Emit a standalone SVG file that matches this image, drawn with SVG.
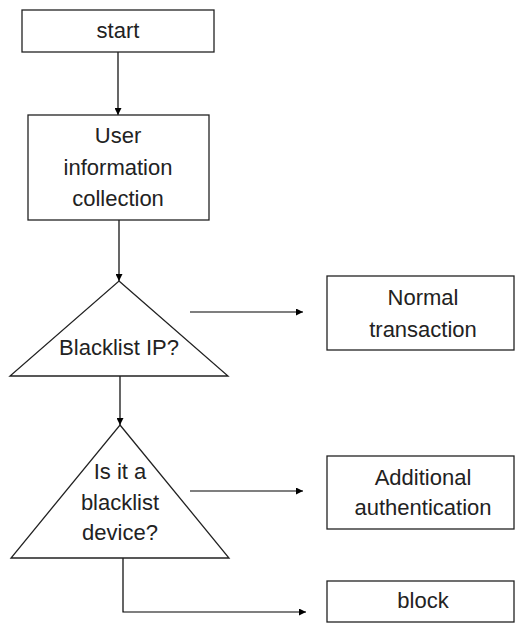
<svg xmlns="http://www.w3.org/2000/svg" width="515" height="623" viewBox="0 0 515 623">
<defs>
<marker id="arr" viewBox="0 0 10 10" refX="10" refY="5" markerWidth="9" markerHeight="7" markerUnits="userSpaceOnUse" orient="auto">
<path d="M0,0 L10,5 L0,10 z" fill="#000"/>
</marker>
<style>
.box{fill:#fff;stroke:#222;stroke-width:1.3}
.t{font-family:"Liberation Sans",Arial,sans-serif;font-size:22px;fill:#222;text-anchor:middle}
.c{fill:none;stroke:#000;stroke-width:1.2}
</style>
</defs>
<rect width="515" height="623" fill="#fff"/>
<g id="connectors">
<line class="c" x1="118" y1="52" x2="118" y2="115" marker-end="url(#arr)"/>
<line class="c" x1="119" y1="220" x2="119" y2="281" marker-end="url(#arr)"/>
<line class="c" x1="120" y1="376" x2="120" y2="425" marker-end="url(#arr)"/>
<line class="c" x1="190" y1="312" x2="303" y2="312" marker-end="url(#arr)"/>
<line class="c" x1="190" y1="491" x2="303" y2="491" marker-end="url(#arr)"/>
<polyline class="c" points="123,558 123,612 306,612" marker-end="url(#arr)"/>
</g>
<g id="start">
<rect class="box" x="22" y="10" width="192" height="42"/>
<text class="t" x="118" y="38">start</text>
</g>
<g id="collect">
<rect class="box" x="28" y="115" width="181" height="105"/>
<text class="t" x="118" y="143">User</text>
<text class="t" x="118" y="175">information</text>
<text class="t" x="118" y="206">collection</text>
</g>
<g id="blacklist-ip">
<polygon class="box" points="119,281 228,376 10,376"/>
<text class="t" x="119" y="355">Blacklist IP?</text>
</g>
<g id="blacklist-device">
<polygon class="box" points="120,425 229,558 11,558"/>
<text class="t" x="120" y="479">Is it a</text>
<text class="t" x="120" y="510">blacklist</text>
<text class="t" x="120" y="540">device?</text>
</g>
<g id="normal">
<rect class="box" x="327" y="276" width="187" height="74"/>
<text class="t" x="423" y="305">Normal</text>
<text class="t" x="423" y="337">transaction</text>
</g>
<g id="additional">
<rect class="box" x="327" y="456" width="187" height="73"/>
<text class="t" x="423" y="485">Additional</text>
<text class="t" x="423" y="515">authentication</text>
</g>
<g id="block">
<rect class="box" x="327" y="581" width="187" height="41"/>
<text class="t" x="423" y="608">block</text>
</g>
</svg>
